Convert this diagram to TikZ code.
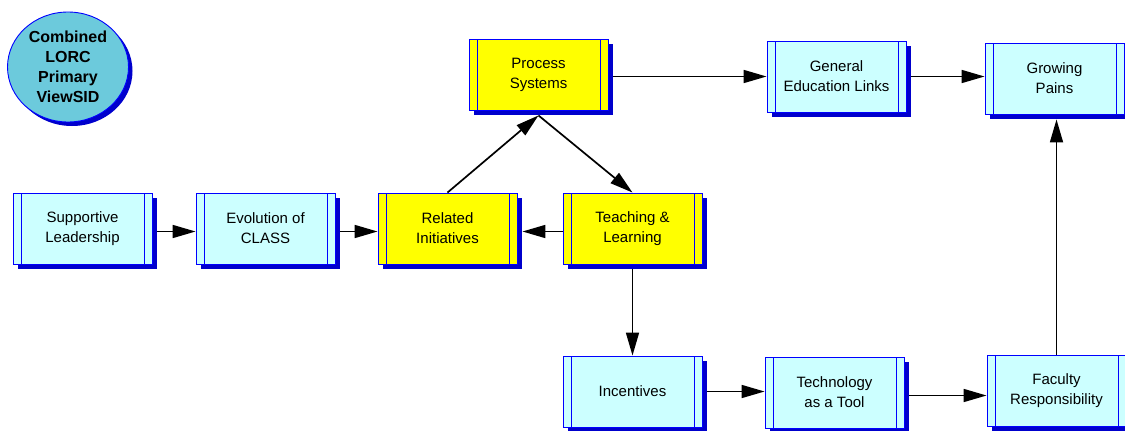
\documentclass[tikz,border=0pt]{standalone}
\usepackage{fontspec}
\setmainfont{Liberation Sans}
\usetikzlibrary{arrows.meta,shapes.geometric,shadows,backgrounds}
\definecolor{boxcyan}{RGB}{204,255,255}
\definecolor{boxyellow}{RGB}{255,255,0}
\definecolor{edgeblue}{RGB}{0,0,255}
\definecolor{shadeblue}{RGB}{0,0,204}
\definecolor{ovalfill}{RGB}{108,202,220}
\begin{document}
\begin{tikzpicture}[x=1pt,y=-1pt,
  card/.style={rectangle, draw=edgeblue, line width=0.9pt,
    minimum width=139pt, minimum height=71pt, inner sep=0pt,
    align=center, font=\fontsize{15}{20}\selectfont,
    general shadow={fill=shadeblue, shadow xshift=5pt, shadow yshift=-5pt},
    path picture={
      \draw[edgeblue, line width=0.9pt]
        ([xshift=8pt]path picture bounding box.south west) --
        ([xshift=8pt]path picture bounding box.north west);
      \draw[edgeblue, line width=0.9pt]
        ([xshift=-8pt]path picture bounding box.south east) --
        ([xshift=-8pt]path picture bounding box.north east);
    }},
  plain/.style={card, fill=boxcyan},
  hot/.style={card, fill=boxyellow},
  link/.style={draw=black, line width=1.7pt,
    -{Triangle[length=23pt,width=13pt]}}
]
\useasboundingbox (0,0) rectangle (1125,431);
\clip (0,0) rectangle (1125,431);

% title oval
\node (title) [ellipse, draw=edgeblue, line width=0.9pt, fill=ovalfill,
  minimum width=121pt, minimum height=110pt, inner sep=0pt, align=center,
  general shadow={fill=shadeblue, shadow xshift=4pt, shadow yshift=-4pt},
  font=\bfseries\fontsize{16}{20}\selectfont]
  at (68,67) {Combined\\LORC\\Primary\\ViewSID};

% boxes
\node (sup) [plain] at (82.5,228.5)  {Supportive\\Leadership};
\node (evo) [plain] at (265.5,228.5) {Evolution of\\CLASS};
\node (rel) [hot]   at (447.5,228.5) {Related\\Initiatives};
\node (tea) [hot]   at (632.5,228.5) {Teaching \&\\Learning};
\node (pro) [hot]   at (538.5,74.5)  {Process\\Systems};
\node (gen) [plain] at (836.5,76.5)  {General\\Education Links};
\node (gro) [plain] at (1054.5,78.5) {Growing\\Pains};
\node (inc) [plain] at (632.5,391.5) {Incentives};
\node (tec) [plain] at (834.5,392.5) {Technology\\as a Tool};
\node (fac) [plain] at (1056.5,390.5) {Faculty\\Responsibility};

% connectors
\begin{scope}[on background layer]
  \coordinate (apex) at ([yshift=-5pt]pro.south);
  \draw[link] ([yshift=-3pt]sup.east) -- ([yshift=-3pt]evo.west);
  \draw[link] ([yshift=-3pt]evo.east) -- ([yshift=-3pt]rel.west);
  \draw[link] ([yshift=-3pt]tea.west) -- ([xshift=5pt,yshift=-3pt]rel.east);
  \draw[link] (rel.north) -- (apex);
  \draw[link] (apex) -- (tea.north);
  \draw[link] ([yshift=-2pt]pro.east) -- ([yshift=-2pt]pro.east -| gen.west);
  \draw[link] (gen.east) -- (gen.east -| gro.west);
  \draw[link] (tea.south) -- (inc.north);
  \draw[link] (inc.east) -- (inc.east -| tec.west);
  \draw[link] ([yshift=-3pt]tec.east) -- ([yshift=-3pt]tec.east -| fac.west);
  \coordinate (gbase) at ([yshift=-5pt]gro.south);
  \draw[link] (fac.north) -- (fac.north |- gbase);
\end{scope}
\end{tikzpicture}
\end{document}
